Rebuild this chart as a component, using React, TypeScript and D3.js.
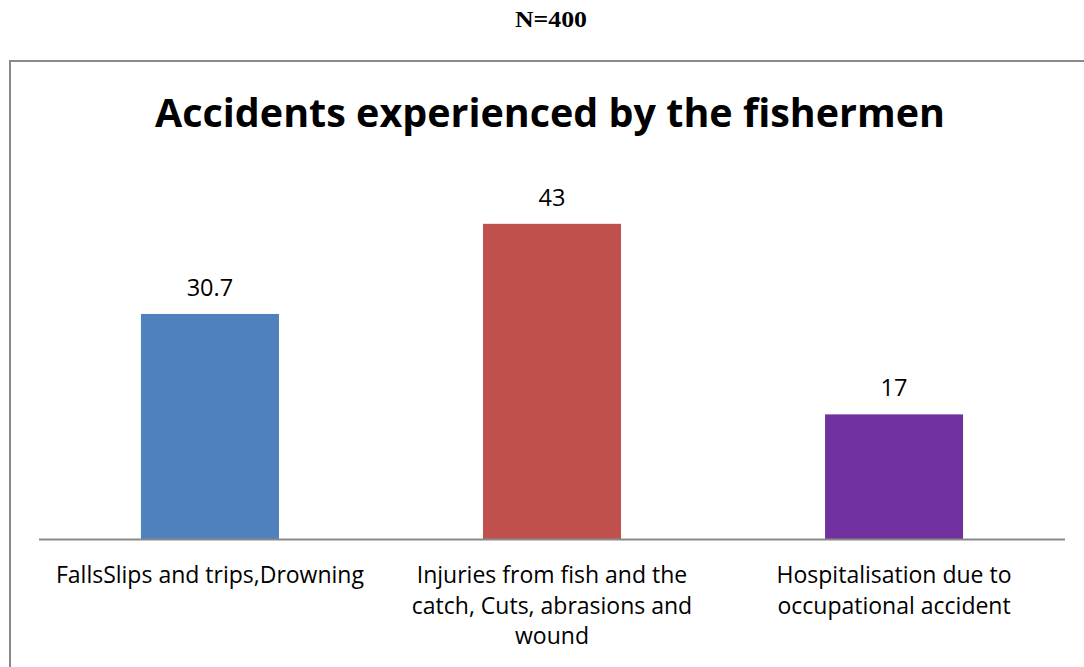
import React from "react";
import * as d3 from "d3";

const categories: string[][] = [
  ["FallsSlips and trips,Drowning"],
  ["Injuries from fish and the", "catch, Cuts, abrasions and", "wound"],
  ["Hospitalisation due to", "occupational accident"],
];
const values: number[] = [30.7, 43, 17];
const valueLabels: string[] = ["30.7", "43", "17"];
const colors: string[] = ["#4F81BD", "#C0504D", "#7030A0"];
const title = "Accidents experienced by the fishermen";
const subtitle = "N=400";

const W = 1084;
const H = 667;
const FONT = "'Open Sans', 'Noto Sans', sans-serif";

export default function App() {
  const ids = d3.range(values.length).map(String);
  const x = d3
    .scaleBand<string>()
    .domain(ids)
    .range([39, 1065])
    .paddingInner(0.5965)
    .paddingOuter(0.298);
  const y = d3.scaleLinear().domain([0, 50]).range([539, 172.5]);

  return (
    <svg
      width={W}
      height={H}
      style={{ position: "absolute", left: 0, top: 0, background: "#fff" }}
    >
      <rect x={0} y={0} width={W} height={H} fill="#fff" />
      <text
        x={551}
        y={27}
        textAnchor="middle"
        fontFamily="'Liberation Serif', 'Times New Roman', serif"
        fontWeight="bold"
        fontSize={24}
        textLength={72}
        lengthAdjust="spacingAndGlyphs"
        fill="#000"
      >
        {subtitle}
      </text>
      <rect
        x={10}
        y={61}
        width={1100}
        height={700}
        fill="none"
        stroke="#898989"
        strokeWidth={2}
      />
      <text
        x={550}
        y={127}
        textAnchor="middle"
        fontFamily={FONT}
        fontWeight="bold"
        fontSize={40}
        textLength={790}
        lengthAdjust="spacingAndGlyphs"
        fill="#000"
      >
        {title}
      </text>
      {values.map((v, i) => (
        <rect
          key={"b" + i}
          x={x(ids[i])}
          y={y(v)}
          width={x.bandwidth()}
          height={y(0) - y(v)}
          fill={colors[i]}
        />
      ))}
      {values.map((v, i) => (
        <text
          key={"v" + i}
          x={(x(ids[i]) as number) + x.bandwidth() / 2}
          y={y(v) - 18}
          textAnchor="middle"
          fontFamily={FONT}
          fontSize={23.5}
          fill="#000"
        >
          {valueLabels[i]}
        </text>
      ))}
      <line
        x1={39}
        x2={1065}
        y1={y(0) + 0.5}
        y2={y(0) + 0.5}
        stroke="#898989"
        strokeWidth={2}
      />
      {categories.map((lines, i) => (
        <text
          key={"c" + i}
          x={(x(ids[i]) as number) + x.bandwidth() / 2}
          y={583}
          textAnchor="middle"
          fontFamily={FONT}
          fontSize={23}
          fill="#000"
        >
          {lines.map((ln, j) => (
            <tspan
              key={j}
              x={(x(ids[i]) as number) + x.bandwidth() / 2}
              y={583 + j * 30.5}
            >
              {ln}
            </tspan>
          ))}
        </text>
      ))}
    </svg>
  );
}
